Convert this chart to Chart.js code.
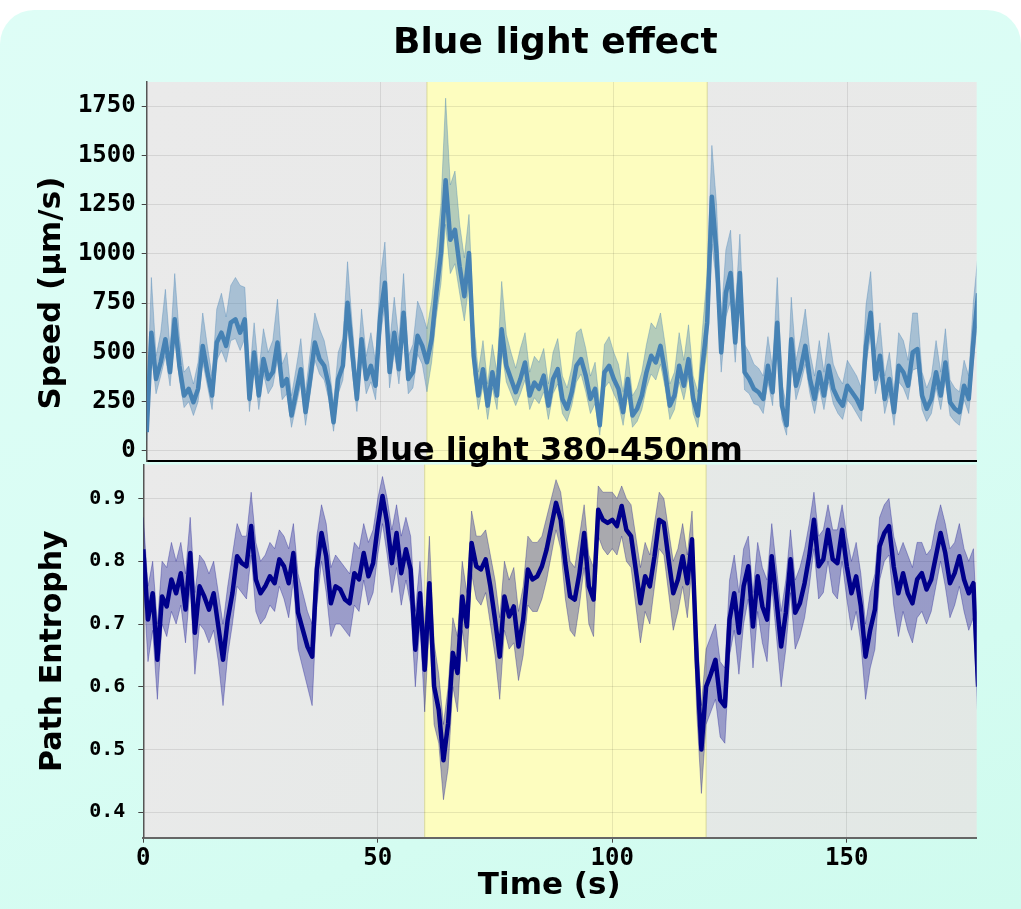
<!DOCTYPE html>
<html>
<head>
<meta charset="utf-8">
<script src="https://cdn.jsdelivr.net/npm/chart.js@4.4.1/dist/chart.umd.min.js"></script>
<style>
  body { margin: 0; background: #fff; width: 1021px; height: 909px; overflow: hidden; position: relative; }
  #panel { position: absolute; left: 0; top: 10px; width: 1021px; height: 899px;
    border-radius: 34px 34px 0 0;
    background: linear-gradient(160deg, #defdf6 0%, #d9fdf4 55%, #cffbee 100%); }
  #speedChart { position: absolute; left: 0; top: 0; }
  #entropyChart { position: absolute; left: 0; top: 400px; }
</style>
</head>
<body>
<div id="panel"></div>
<canvas id="speedChart" width="1021" height="470"></canvas>
<canvas id="entropyChart" width="1021" height="509"></canvas>
<script>
// one sample per second, 0..178 s
const speedMean = [96,600,365,450,567,400,668,432,281,315,
  247,315,533,400,281,550,600,533,651,668,
  600,668,264,500,281,466,365,400,550,331,
  365,180,298,415,197,365,550,466,432,331,
  146,365,432,752,500,264,567,365,432,331,
  685,853,400,600,415,701,365,400,584,533,
  450,567,802,1004,1374,1071,1122,937,785,1004,
  483,281,415,230,399,281,617,432,365,298,
  365,449,281,347,315,382,230,365,415,264,
  214,298,432,466,382,264,315,130,399,432,
  365,315,197,365,180,214,281,399,483,449,
  533,399,230,281,432,331,466,264,180,432,
  651,1290,1004,500,802,903,550,903,399,365,
  315,298,264,432,298,651,230,130,567,331,
  415,533,365,264,399,281,432,315,264,230,
  331,298,264,214,533,701,365,483,264,365,
  197,432,399,331,500,517,281,214,264,399,
  281,449,247,214,197,331,264,560,800];
const speedHigh = [160,880,480,600,820,520,900,580,400,430,
  340,450,700,530,380,720,800,680,840,880,
  840,830,380,650,400,620,500,560,770,440,
  500,280,420,570,300,500,700,620,560,440,
  240,500,570,960,640,370,720,480,600,450,
  880,1060,540,780,560,900,480,540,760,700,
  620,760,1000,1250,1790,1350,1420,1150,980,1200,
  650,400,560,340,540,400,860,590,500,420,
  520,600,400,480,450,520,340,500,570,380,
  320,420,600,620,520,380,450,230,540,580,
  500,440,300,500,280,320,400,540,650,620,
  700,540,340,400,600,460,640,380,300,620,
  900,1550,1250,680,1020,1120,720,1100,540,500,
  440,420,380,580,420,880,340,230,780,460,
  570,720,500,380,560,400,600,440,380,340,
  460,420,380,320,740,910,500,650,380,500,
  300,600,560,460,700,700,400,320,380,560,
  400,620,360,320,300,460,380,760,1000];
const speedLow = [50,500,290,380,480,330,580,360,220,250,
  180,250,450,330,210,460,510,450,560,570,
  510,570,200,420,210,390,290,330,460,260,
  290,120,230,340,130,290,460,390,360,260,
  100,290,360,640,410,200,470,290,350,260,
  580,740,320,500,340,600,290,320,490,440,
  300,450,680,850,1150,900,950,800,660,850,
  390,210,330,160,320,210,510,350,290,230,
  290,360,210,270,240,300,160,290,340,190,
  150,230,350,390,300,190,240,80,320,350,
  290,240,130,290,120,150,210,320,390,360,
  440,320,160,210,350,260,380,190,120,330,
  520,1050,850,400,680,760,450,770,310,290,
  240,230,190,350,230,550,160,80,470,260,
  340,440,290,190,320,210,350,240,190,160,
  260,230,190,150,440,590,290,390,190,290,
  130,350,320,260,410,420,210,150,190,320,
  210,360,180,150,130,260,190,460,680];

const entropyMean = [0.819,0.707,0.749,0.643,0.744,0.728,0.771,0.749,0.781,0.723,
  0.813,0.686,0.760,0.744,0.723,0.749,0.696,0.643,0.707,0.749,
  0.808,0.797,0.792,0.856,0.771,0.749,0.760,0.776,0.765,0.803,
  0.792,0.765,0.813,0.718,0.691,0.664,0.648,0.787,0.845,0.808,
  0.733,0.760,0.755,0.739,0.733,0.781,0.771,0.813,0.776,0.797,
  0.856,0.904,0.861,0.797,0.845,0.781,0.819,0.787,0.659,0.749,
  0.627,0.765,0.601,0.563,0.483,0.542,0.654,0.622,0.744,0.696,
  0.829,0.792,0.787,0.803,0.760,0.707,0.648,0.744,0.712,0.728,
  0.664,0.707,0.787,0.771,0.776,0.792,0.819,0.856,0.893,0.866,
  0.797,0.744,0.739,0.781,0.845,0.760,0.739,0.882,0.866,0.861,
  0.866,0.856,0.888,0.850,0.840,0.787,0.733,0.776,0.760,0.808,
  0.866,0.861,0.803,0.749,0.771,0.808,0.765,0.835,0.643,0.500,
  0.600,0.620,0.643,0.579,0.569,0.707,0.749,0.686,0.760,0.792,
  0.696,0.776,0.728,0.707,0.808,0.739,0.664,0.718,0.803,0.718,
  0.733,0.765,0.808,0.866,0.792,0.803,0.850,0.803,0.797,0.850,
  0.792,0.749,0.776,0.728,0.648,0.691,0.723,0.824,0.845,0.856,
  0.792,0.749,0.781,0.749,0.733,0.771,0.781,0.755,0.771,0.808,
  0.845,0.813,0.765,0.781,0.808,0.771,0.749,0.765,0.600];
const entropyHigh = [0.870,0.760,0.800,0.700,0.800,0.790,0.830,0.800,0.830,0.780,
  0.870,0.750,0.810,0.800,0.780,0.800,0.750,0.700,0.760,0.810,
  0.860,0.840,0.840,0.910,0.830,0.800,0.810,0.830,0.820,0.850,
  0.840,0.820,0.860,0.780,0.750,0.720,0.700,0.840,0.890,0.860,
  0.790,0.810,0.800,0.790,0.780,0.830,0.820,0.860,0.830,0.850,
  0.900,0.935,0.900,0.850,0.890,0.840,0.870,0.840,0.720,0.800,
  0.690,0.840,0.670,0.620,0.540,0.600,0.710,0.680,0.800,0.750,
  0.880,0.840,0.840,0.850,0.810,0.770,0.710,0.800,0.770,0.790,
  0.720,0.760,0.840,0.830,0.830,0.840,0.870,0.900,0.930,0.910,
  0.850,0.800,0.790,0.840,0.890,0.810,0.790,0.920,0.910,0.910,
  0.910,0.900,0.920,0.900,0.890,0.840,0.790,0.830,0.810,0.860,
  0.910,0.900,0.850,0.800,0.820,0.860,0.810,0.880,0.700,0.570,
  0.660,0.680,0.700,0.640,0.630,0.770,0.810,0.750,0.820,0.840,
  0.750,0.830,0.790,0.770,0.860,0.790,0.720,0.770,0.850,0.770,
  0.790,0.820,0.860,0.910,0.840,0.850,0.890,0.850,0.850,0.890,
  0.840,0.800,0.830,0.780,0.700,0.750,0.780,0.870,0.890,0.900,
  0.840,0.810,0.830,0.810,0.790,0.830,0.830,0.810,0.820,0.860,
  0.890,0.860,0.820,0.830,0.860,0.820,0.800,0.820,0.650];
const entropyLow = [0.770,0.640,0.690,0.580,0.700,0.680,0.720,0.700,0.730,0.670,
  0.760,0.620,0.700,0.690,0.670,0.690,0.640,0.570,0.650,0.700,
  0.760,0.750,0.740,0.810,0.720,0.700,0.710,0.730,0.720,0.760,
  0.740,0.710,0.770,0.660,0.630,0.600,0.570,0.730,0.800,0.750,
  0.680,0.700,0.700,0.690,0.680,0.730,0.720,0.770,0.730,0.750,
  0.810,0.860,0.810,0.750,0.790,0.730,0.770,0.730,0.600,0.700,
  0.560,0.700,0.540,0.510,0.420,0.470,0.600,0.560,0.690,0.640,
  0.780,0.740,0.730,0.750,0.700,0.650,0.580,0.690,0.660,0.670,
  0.610,0.650,0.730,0.720,0.720,0.740,0.770,0.810,0.850,0.820,
  0.740,0.690,0.680,0.730,0.790,0.700,0.680,0.840,0.820,0.810,
  0.820,0.810,0.840,0.800,0.790,0.730,0.670,0.720,0.700,0.760,
  0.820,0.810,0.750,0.690,0.720,0.760,0.710,0.790,0.560,0.430,
  0.540,0.560,0.580,0.520,0.510,0.650,0.690,0.620,0.700,0.740,
  0.630,0.720,0.670,0.640,0.760,0.680,0.600,0.660,0.750,0.660,
  0.680,0.710,0.760,0.820,0.740,0.750,0.800,0.750,0.740,0.800,
  0.740,0.690,0.720,0.670,0.580,0.630,0.660,0.770,0.800,0.810,
  0.730,0.680,0.720,0.690,0.670,0.710,0.720,0.700,0.720,0.760,
  0.800,0.760,0.710,0.730,0.760,0.720,0.690,0.710,0.540];

const speedTicks = [0, 250, 500, 750, 1000, 1250, 1500, 1750];
const entropyTicks = [0.4, 0.5, 0.6, 0.7, 0.8, 0.9];
const timeTicks = [0, 50, 100, 150];
const lightOn = 60, lightOff = 120;   // blue light 380-450nm window (s)

const MONO = "'DejaVu Sans Mono', monospace";
const SANS = "'DejaVu Sans', sans-serif";

function toPoints(values) {
  return values.map((v, i) => ({ x: i, y: v }));
}

// grey plot background + yellow light window
const backdrop = {
  id: 'backdrop',
  beforeDraw(chart) {
    const { ctx, chartArea: a, scales: { x } } = chart;
    ctx.save();
    const g = ctx.createLinearGradient(a.left, a.top, a.right, a.bottom);
    g.addColorStop(0, '#eaeaea');
    g.addColorStop(1, chart.canvas.id === 'entropyChart' ? '#e2e8e5' : '#e8e9e8');
    ctx.fillStyle = g;
    ctx.fillRect(a.left, a.top, a.width, a.height);
    const x0 = x.getPixelForValue(lightOn);
    const x1 = x.getPixelForValue(lightOff);
    ctx.fillStyle = '#fdfdbf';
    ctx.fillRect(x0, a.top, x1 - x0, a.height);
    ctx.strokeStyle = 'rgba(200,200,120,0.6)';
    ctx.lineWidth = 1;
    ctx.beginPath();
    ctx.moveTo(x0, a.top); ctx.lineTo(x0, a.bottom);
    ctx.moveTo(x1, a.top); ctx.lineTo(x1, a.bottom);
    ctx.stroke();
    ctx.restore();
  }
};

function bandSets(mean, high, low, lineColor, bandFill, bandEdge, lineWidth) {
  return [
    { data: toPoints(mean), borderColor: lineColor, borderWidth: lineWidth, pointRadius: 0, tension: 0, borderJoinStyle: 'round' },
    { data: toPoints(high), borderColor: bandEdge, borderWidth: 1, pointRadius: 0, tension: 0, fill: false },
    { data: toPoints(low), borderColor: bandEdge, borderWidth: 1, pointRadius: 0, tension: 0, fill: '-1', backgroundColor: bandFill }
  ];
}

const gridColor = 'rgba(0,0,0,0.09)';

new Chart(document.getElementById('speedChart'), {
  type: 'line',
  data: { datasets: bandSets(speedMean, speedHigh, speedLow, '#4682b4', 'rgba(70,130,180,0.4)', 'rgba(70,130,180,0.35)', 4.5) },
  options: {
    responsive: false,
    animation: false,
    layout: { padding: { left: 0, right: 44.3, top: 0, bottom: 0 } },
    plugins: {
      legend: { display: false },
      tooltip: { enabled: false },
      title: {
        display: true, text: 'Blue light effect ', fullSize: false, color: '#000',
        font: { family: SANS, size: 36, weight: 'bold', lineHeight: 1.2 },
        padding: { top: 22, bottom: 16.8 }
      }
    },
    scales: {
      x: {
        type: 'linear', min: 0, max: 177.7,
        afterBuildTicks: s => { s.ticks = timeTicks.map(v => ({ value: v })); },
        afterFit: s => { s.height = 9; },
        ticks: { display: false },
        grid: { color: gridColor, drawTicks: false },
        border: { color: '#000', width: 2 }
      },
      y: {
        min: -51, max: 1872,
        afterBuildTicks: s => { s.ticks = speedTicks.map(v => ({ value: v })); },
        afterFit: s => { s.width = 146.7; },
        ticks: { color: '#000', padding: 6, font: { family: MONO, size: 24, weight: 'bold', lineHeight: 0.2 },
          callback: v => String(v) },
        grid: { color: gridColor, tickLength: 5, tickColor: '#444' },
        border: { color: '#555', width: 1.5 },
        title: {
          display: true, text: 'Speed (µm/s)    ', color: '#000',
          font: { family: SANS, size: 31, weight: 'bold', lineHeight: 1.2 },
          padding: { top: 33, bottom: 0 }
        }
      }
    }
  },
  plugins: [backdrop]
});

new Chart(document.getElementById('entropyChart'), {
  type: 'line',
  data: { datasets: bandSets(entropyMean, entropyHigh, entropyLow, '#00008b', 'rgba(0,0,139,0.33)', 'rgba(0,0,139,0.3)', 4.5) },
  options: {
    responsive: false,
    animation: false,
    layout: { padding: { left: 0, right: 44.3, top: 0, bottom: 0 } },
    plugins: {
      legend: { display: false },
      tooltip: { enabled: false },
      title: {
        display: true, text: 'Blue light 380-450nm  ', fullSize: false, color: '#000',
        font: { family: SANS, size: 32, weight: 'bold', lineHeight: 0.8 },
        padding: { top: 39, bottom: 0 }
      }
    },
    scales: {
      x: {
        type: 'linear', min: 0, max: 177.7,
        afterBuildTicks: s => { s.ticks = timeTicks.map(v => ({ value: v })); },
        afterFit: s => { s.height = 71.3; },
        ticks: { color: '#000', padding: 2, maxRotation: 0, font: { family: MONO, size: 24, weight: 'bold' } },
        grid: { color: gridColor, tickLength: 5, tickColor: '#444' },
        border: { color: '#666', width: 2 },
        title: {
          display: true, text: 'Time (s)  ', color: '#000',
          font: { family: SANS, size: 31, weight: 'bold', lineHeight: 1.2 },
          padding: { top: 0, bottom: 4 }
        }
      },
      y: {
        min: 0.3595, max: 0.954,
        afterBuildTicks: s => { s.ticks = entropyTicks.map(v => ({ value: v })); },
        afterFit: s => { s.width = 143.3; },
        ticks: { color: '#000', padding: 13, font: { family: MONO, size: 20, weight: 'bold', lineHeight: 0.8 },
          callback: v => v.toFixed(1) },
        grid: { color: gridColor, tickLength: 5, tickColor: '#444' },
        border: { color: '#555', width: 1.5 },
        title: {
          display: true, text: 'Path Entrophy', color: '#000',
          font: { family: SANS, size: 30, weight: 'bold', lineHeight: 1.2 },
          padding: { top: 35, bottom: 0 }
        }
      }
    }
  },
  plugins: [backdrop]
});
</script>
</body>
</html>
